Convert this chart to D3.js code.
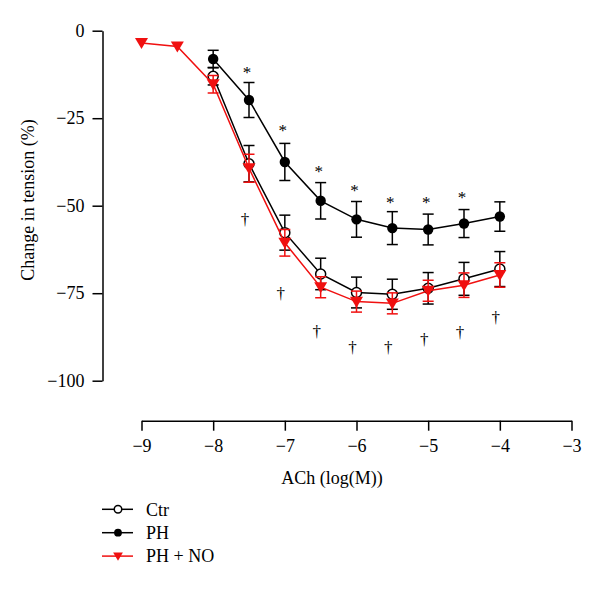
<!DOCTYPE html>
<html><head><meta charset="utf-8">
<script src="https://cdn.jsdelivr.net/npm/d3@7/dist/d3.min.js"></script>
<style>body{margin:0;background:#fff}svg{display:block}</style>
</head><body>
<svg id="c" width="600" height="590"></svg>
<script>
const xTicks = [-9, -8, -7, -6, -5, -4, -3];
const yTicks = [0, -25, -50, -75, -100];

const ctrX = [-8, -7.5, -7, -6.5, -6, -5.5, -5, -4.5, -4];
const ctrMean = [-13, -38, -57.7, -69.5, -74.8, -75.3, -73.6, -70.9, -68.1];
const ctrErr = [2.5, 5.2, 5, 4.5, 4.4, 4.3, 4.5, 4.7, 5];

const phX = [-8, -7.5, -7, -6.5, -6, -5.5, -5, -4.5, -4];
const phMean = [-8.1, -19.8, -37.5, -48.6, -53.9, -56.4, -56.8, -55.1, -53.1];
const phErr = [2.5, 5, 5.3, 5.2, 5.1, 4.7, 4.4, 4, 4.2];

const phnoX = [-9, -8.5, -8, -7.5, -7, -6.5, -6, -5.5, -5, -4.5, -4];
const phnoMean = [-3.5, -4.5, -15.3, -39.3, -60.6, -73.3, -77.4, -77.9, -74.3, -72.7, -69.8];
const phnoErr = [0, 0, 2.5, 4, 3.8, 3, 3, 3, 3, 3.5, 3.5];

const starX = [-7.5, -7, -6.5, -6, -5.5, -5, -4.5];
const starY = [-11.2, -27.9, -39.6, -44.9, -48.4, -48.4, -46.9];
const daggerX = [-7.5, -7, -6.5, -6, -5.5, -5, -4.5, -4];
const daggerY = [-54.1, -75.5, -86.1, -90.7, -90.7, -88.4, -86.4, -82.2];

const legendLabels = ["Ctr", "PH", "PH + NO"];
const RED = "#f01010";
const FONT = "'Liberation Serif','Times New Roman',serif";
const FS = 18;

const svg = d3.select("#c");
const x = d3.scaleLinear().domain([-9, -3]).range([141.5, 571.5]);
const y = d3.scaleLinear().domain([0, -100]).range([30.7, 380.7]);

// axes
const yAxis = d3.axisLeft(y).tickValues(yTicks).tickFormat(d3.format("d"))
  .tickSize(10).tickSizeOuter(0).tickPadding(8);
const gy = svg.append("g").attr("transform", "translate(102.5,0)").call(yAxis);
const xAxis = d3.axisBottom(x).tickValues(xTicks).tickFormat(d3.format("d"))
  .tickSize(10).tickSizeOuter(0).tickPadding(9);
const gx = svg.append("g").attr("transform", "translate(0,420.7)").call(xAxis);
[gx, gy].forEach(g => {
  g.select(".domain").attr("stroke", "#000").attr("stroke-width", 1.5);
  g.selectAll(".tick line").attr("stroke", "#000").attr("stroke-width", 1.5);
  g.selectAll(".tick text").attr("font-family", FONT).attr("font-size", FS).attr("fill", "#000");
});

svg.append("text").attr("x", 332).attr("y", 484).attr("text-anchor", "middle")
  .attr("font-family", FONT).attr("font-size", FS).text("ACh (log(M))");
svg.append("text").attr("transform", "translate(34,200) rotate(-90)").attr("text-anchor", "middle")
  .attr("font-family", FONT).attr("font-size", FS).text("Change in tension (%)");

function series(xs, ms, es, color, marker) {
  const data = xs.map((v, i) => ({x: v, m: ms[i], e: es[i]}));
  const g = svg.append("g");
  g.append("path").datum(data)
    .attr("d", d3.line().x(d => x(d.x)).y(d => y(d.m)))
    .attr("fill", "none").attr("stroke", color).attr("stroke-width", 1.5);
  const eb = g.selectAll(".eb").data(data.filter(d => d.e > 0)).enter().append("g");
  eb.append("line").attr("x1", d => x(d.x)).attr("x2", d => x(d.x))
    .attr("y1", d => y(d.m + d.e)).attr("y2", d => y(d.m - d.e));
  eb.append("line").attr("x1", d => x(d.x) - 5.5).attr("x2", d => x(d.x) + 5.5)
    .attr("y1", d => y(d.m + d.e)).attr("y2", d => y(d.m + d.e));
  eb.append("line").attr("x1", d => x(d.x) - 5.5).attr("x2", d => x(d.x) + 5.5)
    .attr("y1", d => y(d.m - d.e)).attr("y2", d => y(d.m - d.e));
  eb.selectAll("line").attr("stroke", color).attr("stroke-width", 1.5);
  data.forEach(d => marker(g, x(d.x), y(d.m), 1));
}
function openCircle(g, cx, cy, s) {
  g.append("circle").attr("cx", cx).attr("cy", cy).attr("r", 5 * s)
    .attr("fill", "#fff").attr("stroke", "#000").attr("stroke-width", 1.5);
}
function filledCircle(g, cx, cy, s) {
  g.append("circle").attr("cx", cx).attr("cy", cy).attr("r", 5.2 * s).attr("fill", "#000");
}
function triangle(g, cx, cy, s) {
  const w = 6.5 * s, h = 11 * s;
  g.append("path").attr("d", `M${cx - w},${cy - h * 0.45}L${cx + w},${cy - h * 0.45}L${cx},${cy + h * 0.55}Z`)
    .attr("fill", RED);
}

series(ctrX, ctrMean, ctrErr, "#000", openCircle);
series(phX, phMean, phErr, "#000", filledCircle);
series(phnoX, phnoMean, phnoErr, RED, triangle);

// significance markers
svg.append("g").selectAll("text").data(starX).enter().append("text")
  .attr("x", (d) => x(d) - 2).attr("y", (d, i) => y(starY[i]) + 8)
  .attr("text-anchor", "middle").attr("font-family", FONT).attr("font-size", 17).attr("fill", "#000").text("*");
svg.append("g").selectAll("text").data(daggerX).enter().append("text")
  .attr("x", (d) => x(d) - 4).attr("y", (d, i) => y(daggerY[i]) + 4.5)
  .attr("text-anchor", "middle").attr("font-family", FONT).attr("font-size", 17).attr("fill", "#000").text("\u2020");

// legend
const markers = [openCircle, filledCircle, triangle];
const colors = ["#000", "#000", RED];
const lg = svg.append("g");
legendLabels.forEach((lab, i) => {
  const ly = 509.3 + i * 23.4;
  lg.append("line").attr("x1", 102).attr("x2", 133).attr("y1", ly).attr("y2", ly)
    .attr("stroke", colors[i]).attr("stroke-width", 1.5);
  markers[i](lg, 118, ly, 0.75);
  lg.append("text").attr("x", 146).attr("y", ly).attr("dy", "0.35em")
    .attr("font-family", FONT).attr("font-size", FS).text(lab);
});
</script>
</body></html>
